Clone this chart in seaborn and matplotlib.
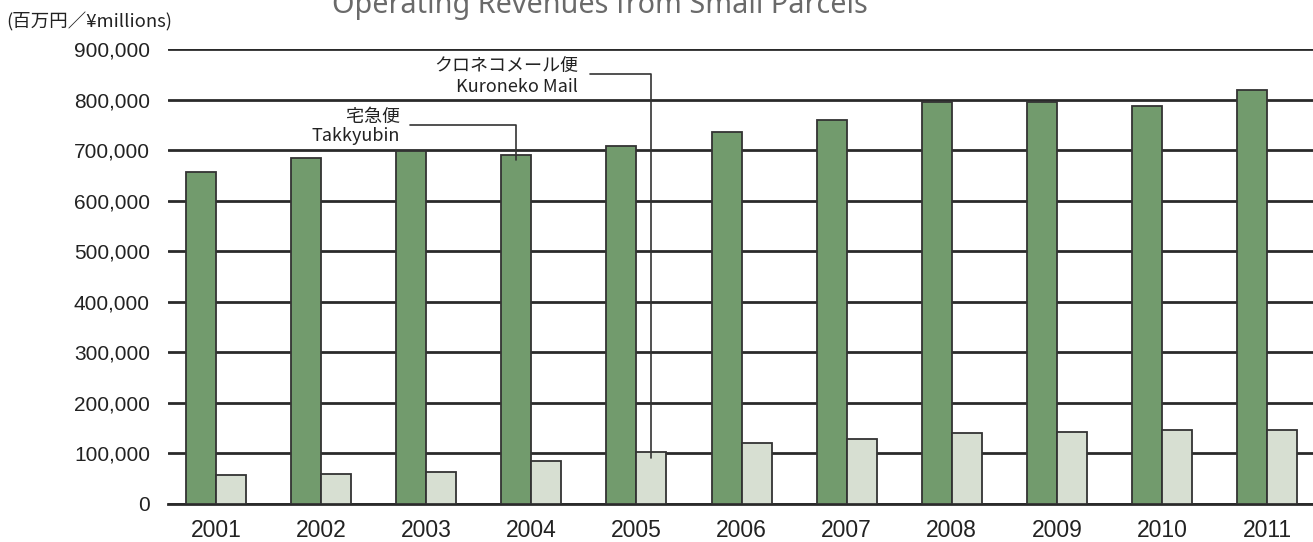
import matplotlib
matplotlib.use("Agg")
import matplotlib.pyplot as plt
from matplotlib import font_manager
import seaborn as sns
import pandas as pd

years = ["2001", "2002", "2003", "2004", "2005", "2006", "2007", "2008", "2009", "2010", "2011"]
takkyubin = [657000, 684000, 698000, 690000, 708000, 737000, 760000, 796000, 795000, 787000, 820000]
kuroneko_mail = [57000, 60000, 62000, 84000, 103000, 120000, 129000, 140000, 143000, 146000, 146000]
series_names = ["宅急便 Takkyubin", "クロネコメール便 Kuroneko Mail"]
y_ticks = [0, 100000, 200000, 300000, 400000, 500000, 600000, 700000, 800000, 900000]

sns.set_theme(style="white")
plt.rcParams['font.family'] = ['Noto Sans CJK JP', 'DejaVu Sans']

avail = {f.name for f in font_manager.fontManager.ttflist}
narrow = 'Liberation Sans Narrow' if 'Liberation Sans Narrow' in avail else 'Liberation Sans'

df = pd.DataFrame({
    "year": years * 2,
    "value": takkyubin + kuroneko_mail,
    "series": [series_names[0]] * len(years) + [series_names[1]] * len(years),
})

W, H = 1313, 542
fig = plt.figure(figsize=(W / 100, H / 100), dpi=100)
ax = fig.add_axes([168 / W, (H - 503.8) / H, 1 - 168 / W, (503.8 - 49.3) / H])

bar_w = 0.57
sns.barplot(data=df, x="year", y="value", hue="series", order=years,
            hue_order=series_names, palette=["#6ca365", "#d6e1d0"],
            width=bar_w, gap=0, edgecolor="#333333", linewidth=1.3,
            legend=False, ax=ax, zorder=3)

ax.set_ylim(0, 900000)
ax.set_xlim(-0.457, 10.437)
ax.set_yticks(y_ticks)
ax.set_yticklabels([f"{v:,}" for v in y_ticks], fontfamily=narrow, fontsize=15, color="#222222")
ax.set_xticks(range(len(years)))
ax.set_xticklabels(years, fontfamily="Liberation Sans", fontsize=16.5, color="#222222")
ax.tick_params(axis="y", length=0, pad=13)
ax.tick_params(axis="x", length=0, pad=11)
ax.set_xlabel("")
ax.set_ylabel("")
ax.yaxis.grid(True, color="#2a2a2a", linewidth=2)
ax.xaxis.grid(False)
ax.set_axisbelow(True)
for s in ["left", "right", "top"]:
    ax.spines[s].set_visible(False)
ax.spines["bottom"].set_color("#2a2a2a")
ax.spines["bottom"].set_linewidth(2)

# Title (partially cut at top, as in the reference)
fig.text(600 / W, 1 - 12.7 / H, "Operating Revenues from Small Parcels",
         ha="center", va="baseline", fontsize=20.7, color="#6a6a6a",
         family=["Noto Sans", "DejaVu Sans"])

# Unit label
fig.text(6 / W, 1 - 22 / H, "(百万円／¥millions)", ha="left", va="center",
         fontsize=13.3, color="#222222", family=["Noto Sans CJK JP", "DejaVu Sans"])

off = bar_w / 4
ann_font = dict(fontsize=13, color="#222222", family=["Noto Sans CJK JP", "DejaVu Sans"])

# Kuroneko Mail annotation
fig.text(578 / W, 1 - 66.7 / H, "クロネコメール便", ha="right", va="center", **ann_font)
fig.text(578 / W, 1 - 86.7 / H, "Kuroneko Mail", ha="right", va="center", **ann_font)
i5 = years.index("2005")
ax.annotate("", xy=(i5 + off, kuroneko_mail[i5] - 12000), xycoords="data",
            xytext=(590, H - 74.3), textcoords="figure pixels",
            arrowprops=dict(arrowstyle="-", color="#333333", lw=1.2,
                            connectionstyle="angle,angleA=0,angleB=90,rad=0",
                            shrinkA=0, shrinkB=0), zorder=5)

# Takkyubin annotation
fig.text(400 / W, 1 - 116.7 / H, "宅急便", ha="right", va="center", **ann_font)
fig.text(400 / W, 1 - 136 / H, "Takkyubin", ha="right", va="center", **ann_font)
i4 = years.index("2004")
ax.annotate("", xy=(i4 - off, takkyubin[i4] - 9000), xycoords="data",
            xytext=(410, H - 125), textcoords="figure pixels",
            arrowprops=dict(arrowstyle="-", color="#333333", lw=1.2,
                            connectionstyle="angle,angleA=0,angleB=90,rad=0",
                            shrinkA=0, shrinkB=0), zorder=5)

fig.savefig("out.png", dpi=100)
